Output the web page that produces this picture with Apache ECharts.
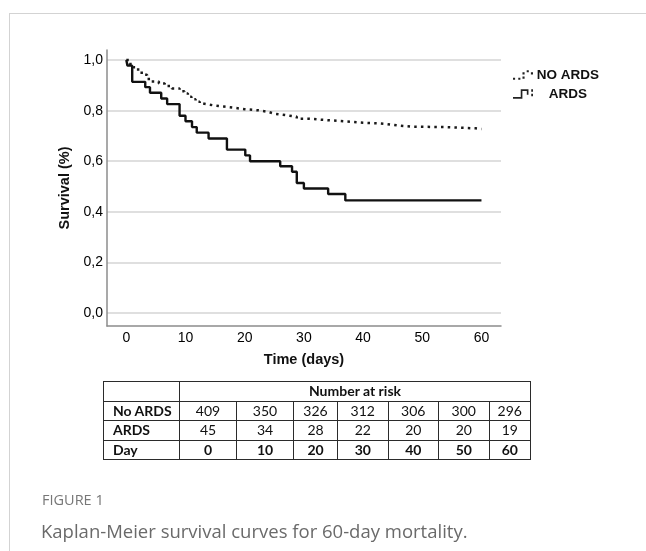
<!DOCTYPE html>
<html>
<head>
<meta charset="utf-8">
<script src="https://cdn.jsdelivr.net/npm/echarts@6/dist/echarts.min.js"></script>
<style>
  html, body { margin: 0; padding: 0; background: #fff; }
  #wrap { position: relative; width: 646px; height: 551px; overflow: hidden; }
  #frame {
    position: absolute; left: 9px; top: 13px; width: 700px; height: 600px;
    border-left: 1px solid #d3d3d3; border-top: 1px solid #d3d3d3;
  }
  #chart { position: absolute; left: 0; top: 0; width: 646px; height: 551px; }
  #risk {
    position: absolute; left: 103px; top: 381px;
    border-collapse: collapse; table-layout: fixed;
    font-family: Lato, "Liberation Sans", Arial, sans-serif; font-size: 14px; color: #111;
  }
  #risk td { border: 1px solid #2b2b2b; height: 18.5px; padding: 0; text-align: center; line-height: 18px; }
  #risk td.lab { text-align: left; padding-left: 9px; font-weight: bold; }
  #risk tr.day td { font-weight: bold; }
  #risk td.head { font-weight: bold; }
  #fig {
    position: absolute; left: 42px; top: 490px;
    font-family: "Open Sans", Lato, sans-serif; font-size: 14.5px; color: #777;
  }
  #cap {
    position: absolute; left: 41px; top: 518px;
    font-family: "Open Sans", Lato, sans-serif; font-size: 18.5px; color: #6a6a6a;
  }
</style>
</head>
<body>
<div id="wrap">
  <div id="frame"></div>
  <div id="chart"></div>
  <table id="risk"></table>
  <div id="fig">FIGURE 1</div>
  <div id="cap">Kaplan-Meier survival curves for 60-day mortality.</div>
</div>
<script>
// survival curves (day of step, survival after step)
const noArdsDay = [0, 0.5, 1.2, 2, 2.6, 3.5, 4.2, 5.5, 6.5, 7.7, 9, 9.8, 10.4, 11, 11.7, 12.4, 13.2, 15, 16.5, 18, 20, 22.5, 24, 25, 27, 28.8, 31, 33, 35.6, 38, 40, 42.3, 44, 45.7, 48, 53.6, 57, 59, 60];
const noArdsSurv = [1.0, 0.985, 0.972, 0.955, 0.942, 0.925, 0.915, 0.907, 0.898, 0.888, 0.877, 0.868, 0.855, 0.845, 0.835, 0.827, 0.82, 0.816, 0.812, 0.806, 0.801, 0.795, 0.788, 0.782, 0.776, 0.768, 0.764, 0.76, 0.756, 0.752, 0.75, 0.747, 0.742, 0.737, 0.735, 0.732, 0.73, 0.727, 0.725];

const ardsDay = [0, 0.2, 1.0, 3.2, 4.0, 5.9, 6.9, 9.0, 10.0, 11.1, 11.9, 13.9, 17.0, 20.1, 20.9, 26.0, 28.0, 28.8, 30.0, 34.1, 37.0, 60];
const ardsSurv = [1.0, 0.978, 0.914, 0.893, 0.871, 0.848, 0.826, 0.78, 0.758, 0.735, 0.713, 0.69, 0.646, 0.623, 0.6, 0.58, 0.558, 0.514, 0.492, 0.47, 0.445, 0.445];

const xTicks = [0, 10, 20, 30, 40, 50, 60];
const yTicks = [0, 0.2, 0.4, 0.6, 0.8, 1];

// number at risk table
const riskDays = [0, 10, 20, 30, 40, 50, 60];
const riskNoArds = [409, 350, 326, 312, 306, 300, 296];
const riskArds = [45, 34, 28, 22, 20, 20, 19];
const colWidths = [76, 57, 57, 44, 50.5, 50.5, 50.5, 41.5];

function buildTable() {
  const t = document.getElementById('risk');
  let html = '<colgroup>' + colWidths.map(w => `<col style="width:${w}px">`).join('') + '</colgroup>';
  html += `<tr><td></td><td class="head" colspan="${riskDays.length}">Number at risk</td></tr>`;
  html += '<tr><td class="lab">No ARDS</td>' + riskNoArds.map(v => `<td>${v}</td>`).join('') + '</tr>';
  html += '<tr><td class="lab">ARDS</td>' + riskArds.map(v => `<td>${v}</td>`).join('') + '</tr>';
  html += '<tr class="day"><td class="lab">Day</td>' + riskDays.map(v => `<td>${v}</td>`).join('') + '</tr>';
  t.innerHTML = html;
}
buildTable();

const font = '"Liberation Sans", Arial, sans-serif';
const pairs = (xs, ys) => xs.map((x, i) => [x, ys[i]]);

// little SPSS-like legend glyphs
const iconDotted = 'path://M0,8h2v2h-2z M5,8h2v2h-2z M9,3h2v2h-2z M9,7h2v2h-2z M13,1h2v2h-2z M17,3h2v2h-2z';
const iconStep = 'path://M0,8H7V1H14V6H12.5V2.5H8.5V9.5H0Z M16.5,1h1.6v2.2h-1.6z M16.5,5h1.6v2.2h-1.6z';

const chart = echarts.init(document.getElementById('chart'));
chart.setOption({
  animation: false,
  grid: { left: 107, right: 145, top: 50, bottom: 225, containLabel: false },
  legend: {
    data: [
      { name: 'NO ARDS', icon: iconDotted },
      { name: 'ARDS', icon: iconStep }
    ],
    orient: 'vertical',
    left: 508,
    top: 63,
    itemWidth: 20,
    itemHeight: 10,
    itemGap: 5,
    itemStyle: { color: '#222' },
    formatter: '{t|{name}}',
    textStyle: {
      rich: { t: { width: 60, align: 'center', fontWeight: 'bold', fontSize: 13.5, fontFamily: font, color: '#111' } }
    }
  },
  xAxis: {
    type: 'value',
    min: -3.26,
    max: 63.3,
    name: 'Time (days)',
    nameLocation: 'middle',
    nameGap: 26,
    nameTextStyle: { fontFamily: font, fontWeight: 'bold', fontSize: 14.5, color: '#111' },
    axisLine: { show: true, onZero: false, lineStyle: { color: '#8c8c8c', width: 1.5 } },
    axisTick: { show: false, customValues: xTicks },
    axisLabel: { customValues: xTicks, fontFamily: font, fontSize: 14, color: '#000', margin: 5 },
    splitLine: { show: false }
  },
  yAxis: {
    type: 'value',
    min: -0.052,
    max: 1.04,
    name: 'Survival (%)',
    nameLocation: 'middle',
    nameGap: 33,
    nameTextStyle: { fontFamily: font, fontWeight: 'bold', fontSize: 14.5, color: '#111' },
    axisLine: { show: true, onZero: false, lineStyle: { color: '#8c8c8c', width: 1.5 } },
    axisTick: { show: false, customValues: yTicks },
    axisLabel: {
      customValues: yTicks, fontFamily: font, fontSize: 14, color: '#000', margin: 4,
      formatter: v => v.toFixed(1).replace('.', ',')
    },
    splitLine: { show: true, lineStyle: { color: '#d4d4d4', width: 1.5 } }
  },
  series: [
    {
      name: 'NO ARDS',
      type: 'line',
      step: 'end',
      symbol: 'none',
      data: pairs(noArdsDay, noArdsSurv),
      itemStyle: { color: '#1a1a1a' },
      lineStyle: { color: '#1a1a1a', width: 2.5, type: [2.5, 4.2] }
    },
    {
      name: 'ARDS',
      type: 'line',
      step: 'end',
      symbol: 'none',
      data: pairs(ardsDay, ardsSurv),
      itemStyle: { color: '#111' },
      lineStyle: { color: '#111', width: 2.4 }
    }
  ]
});
</script>
</body>
</html>
